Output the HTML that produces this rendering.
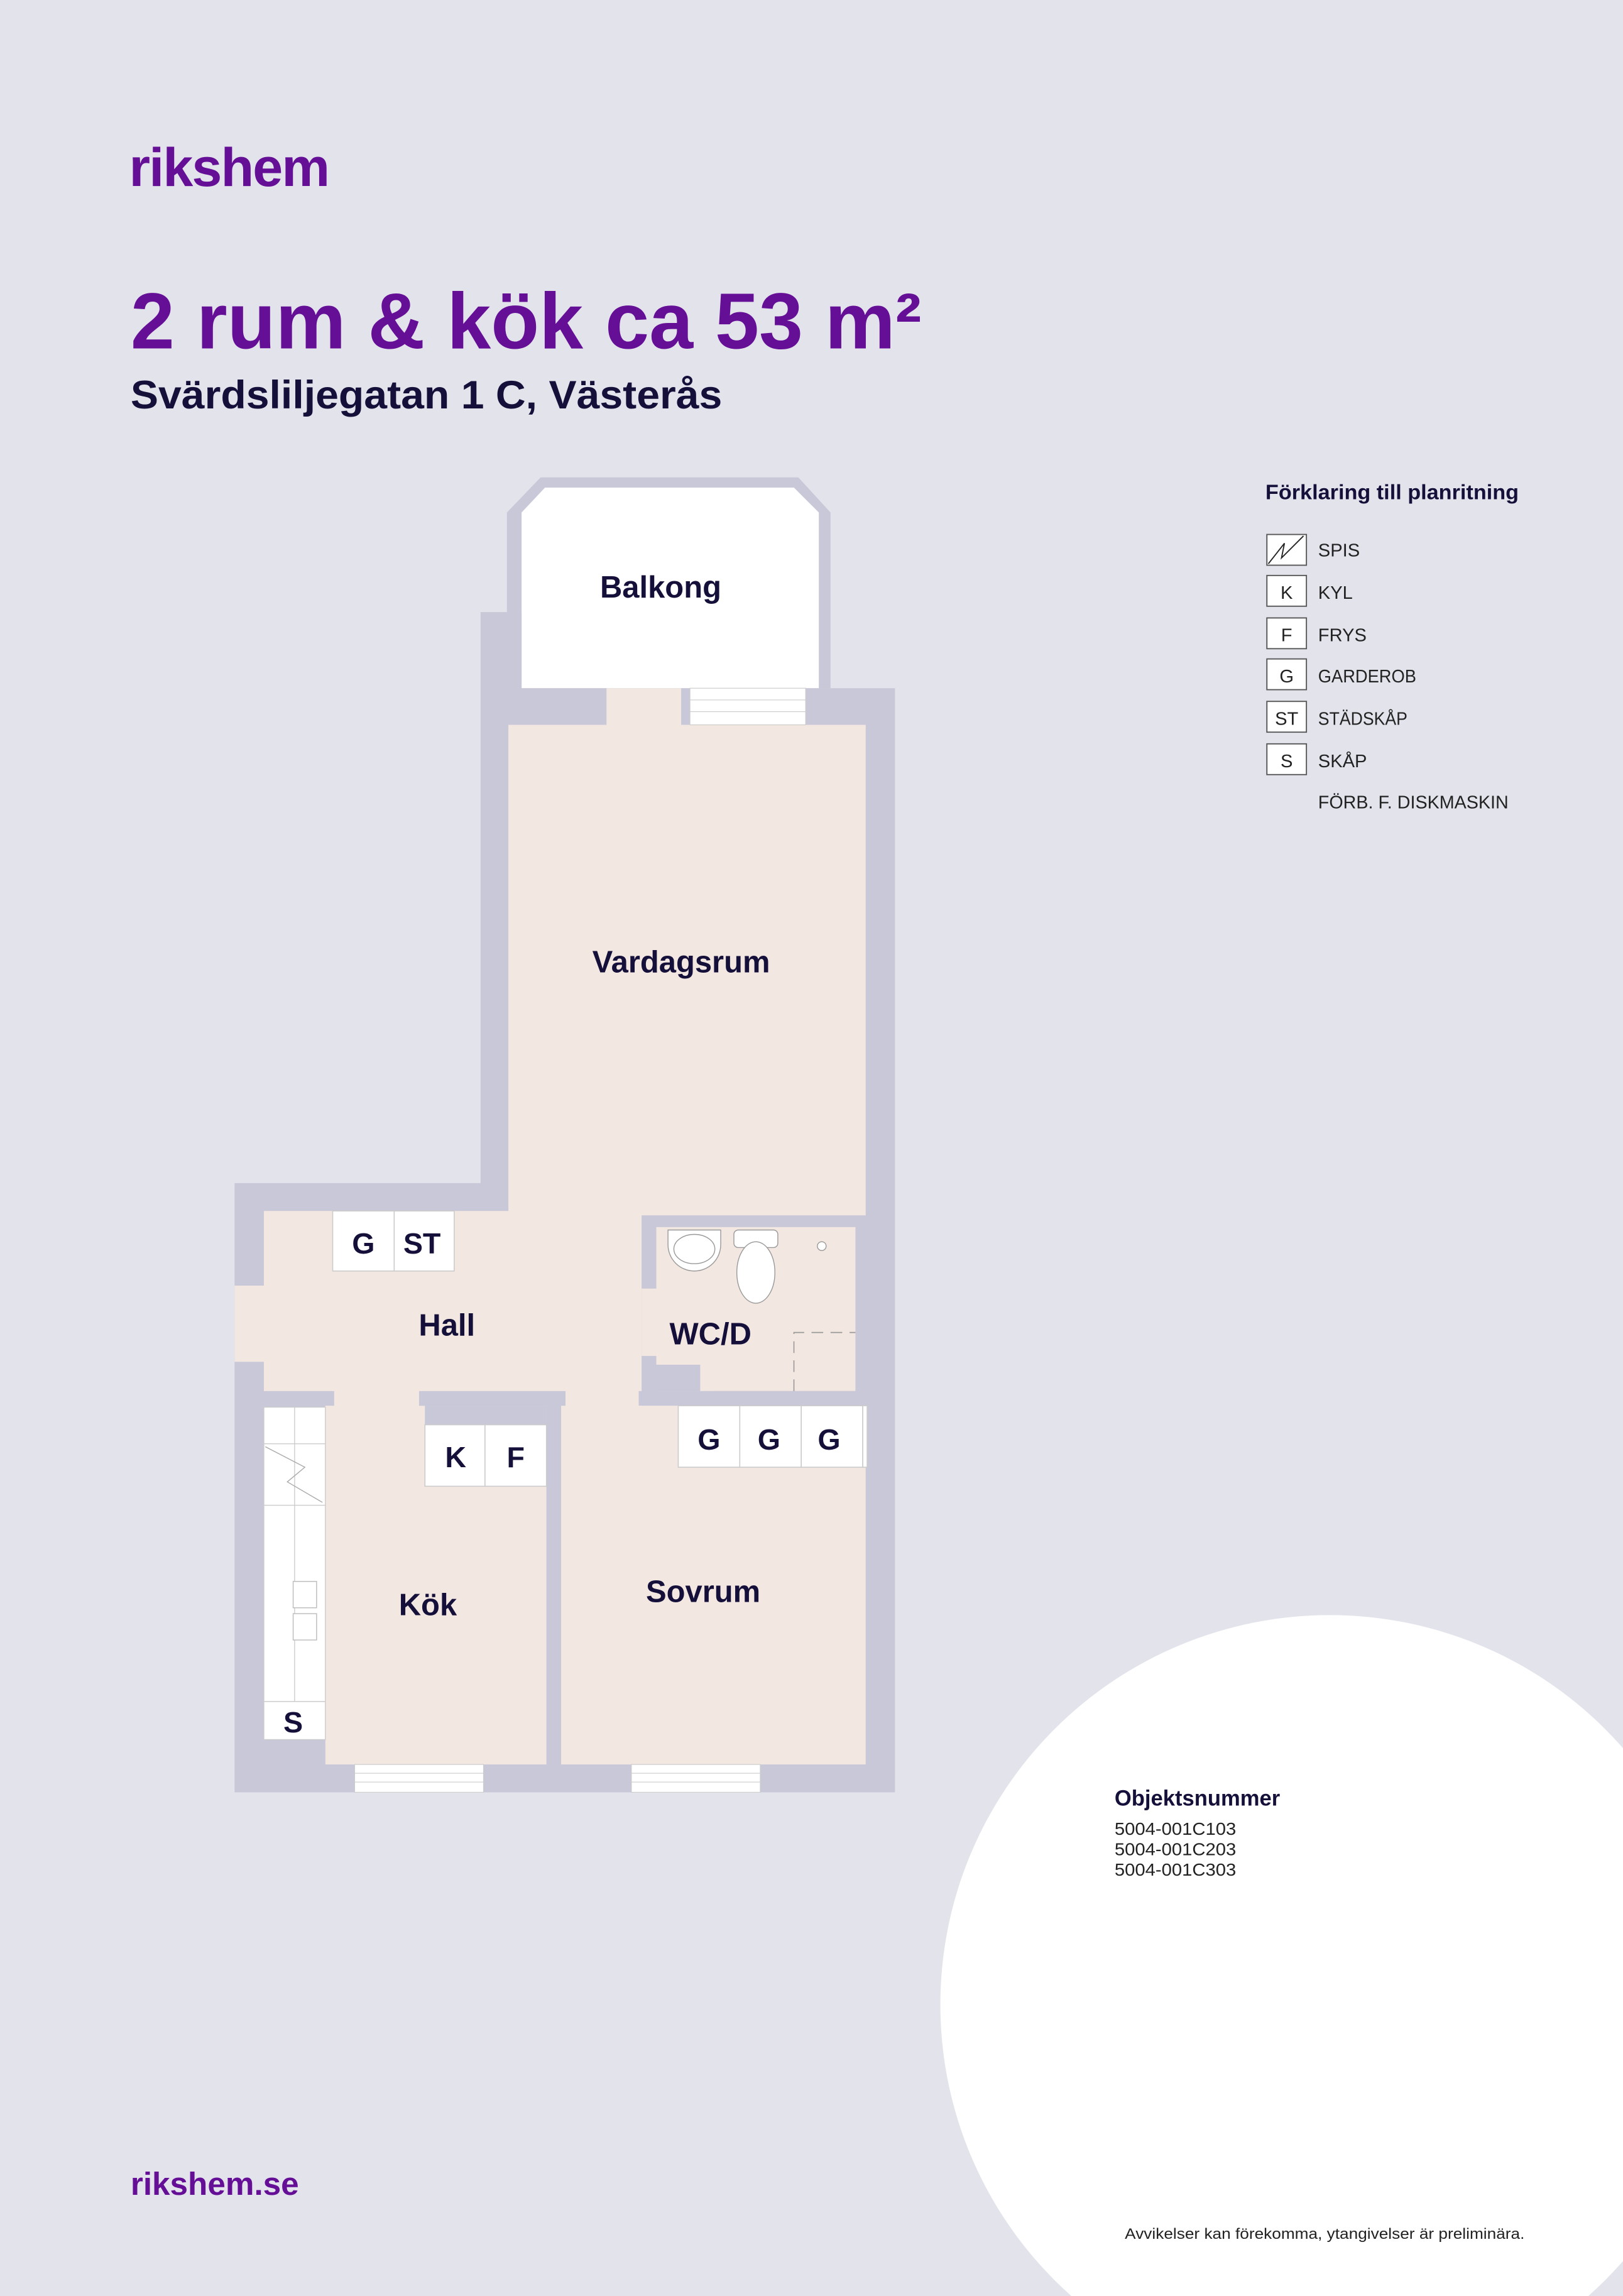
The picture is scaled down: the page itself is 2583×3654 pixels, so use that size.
<!DOCTYPE html>
<html><head><meta charset="utf-8"><style>
html,body{margin:0;padding:0;background:#e3e3ec;}
svg{display:block}
text{font-family:"Liberation Sans",sans-serif;}
</style></head><body>
<svg width="2583" height="3654" viewBox="0 0 1108 1568" xmlns="http://www.w3.org/2000/svg">
<rect width="1108" height="1568" fill="#e3e3ec"/>
<circle cx="908" cy="1369" r="266" fill="#ffffff"/>
<text x="88" y="127" font-size="37" font-weight="bold" fill="#650f96" letter-spacing="-0.8">rikshem</text>
<text x="89" y="238" font-size="54" font-weight="bold" fill="#650f96">2 rum &amp; kök ca 53 m²</text>
<text x="89" y="279" font-size="27" font-weight="bold" fill="#14103a" textLength="404" lengthAdjust="spacingAndGlyphs">Svärdsliljegatan 1 C, Västerås</text>

<!-- legend -->
<text x="864" y="341" font-size="14.5" font-weight="bold" fill="#14103a" textLength="173" lengthAdjust="spacingAndGlyphs">Förklaring till planritning</text>
<g stroke="#555" stroke-width="0.8" fill="#fff">
<rect x="865" y="365" width="27" height="21"/>
<rect x="865" y="393" width="27" height="21"/>
<rect x="865" y="422" width="27" height="21"/>
<rect x="865" y="450" width="27" height="21"/>
<rect x="865" y="479" width="27" height="21"/>
<rect x="865" y="508" width="27" height="21"/>
</g>
<polyline points="866,385 877,371 875,381 890,366" fill="none" stroke="#222" stroke-width="0.8"/>
<g font-size="12.5" fill="#222">
<text x="878.5" y="409" text-anchor="middle">K</text>
<text x="878.5" y="438" text-anchor="middle">F</text>
<text x="878.5" y="466" text-anchor="middle">G</text>
<text x="878.5" y="495" text-anchor="middle">ST</text>
<text x="878.5" y="524" text-anchor="middle">S</text>
<text x="900" y="380">SPIS</text>
<text x="900" y="409">KYL</text>
<text x="900" y="438">FRYS</text>
<text x="900" y="466" textLength="67" lengthAdjust="spacingAndGlyphs">GARDEROB</text>
<text x="900" y="495" textLength="61" lengthAdjust="spacingAndGlyphs">STÄDSKÅP</text>
<text x="900" y="524">SKÅP</text>
<text x="900" y="552" textLength="130" lengthAdjust="spacingAndGlyphs">FÖRB. F. DISKMASKIN</text>
</g>

<!-- floor plan -->
<g>
<polygon points="369,326 545,326 567,350 567,470 346,470 346,350" fill="#c8c8d8"/>
<polygon points="372,333 542,333 559,350 559,470 356,470 356,350" fill="#ffffff"/>
<polygon points="328,418 356,418 356,470 611,470 611,1224 160,1224 160,808 328,808" fill="#c8c8d8"/>
<rect x="347" y="495" width="244" height="336" fill="#f3e7e1"/>
<rect x="180" y="827" width="258" height="124" fill="#f3e7e1"/>
<rect x="160" y="878" width="30" height="52" fill="#f3e7e1"/>
<rect x="414" y="470" width="51" height="26" fill="#f3e7e1"/>
<rect x="386" y="827" width="52" height="140" fill="#f3e7e1"/>
<rect x="438" y="830" width="154" height="130" fill="#c8c8d8"/>
<rect x="448" y="838" width="136" height="112" fill="#f3e7e1"/>
<rect x="438" y="880" width="12" height="46" fill="#f3e7e1"/>
<rect x="478" y="930" width="8" height="20" fill="#f3e7e1"/>
<polygon points="448,930 448,950 478,950 478,932 448,932" fill="#c8c8d8"/>
<rect x="436" y="950" width="156" height="10" fill="#c8c8d8"/>
<path d="M542,950 V910 H584" fill="none" stroke="#999" stroke-width="0.7" stroke-dasharray="8,5"/>
<path d="M456,840 h36 v10 a18,18 0 0 1 -36,0z" fill="#fff" stroke="#999" stroke-width="0.6"/>
<ellipse cx="474" cy="853" rx="14" ry="10" fill="#fff" stroke="#999" stroke-width="0.6"/>
<rect x="501" y="840" width="30" height="12" rx="3" fill="#fff" stroke="#999" stroke-width="0.6"/>
<ellipse cx="516" cy="869" rx="13" ry="21" fill="#fff" stroke="#999" stroke-width="0.6"/>
<circle cx="561" cy="851" r="3" fill="#fff" stroke="#999" stroke-width="0.6"/>
<rect x="222" y="960" width="151" height="245" fill="#f3e7e1"/>
<rect x="383" y="960" width="208" height="245" fill="#f3e7e1"/>
<rect x="222" y="950" width="64" height="12" fill="#f3e7e1"/>
<rect x="180" y="950" width="48" height="10" fill="#c8c8d8"/>
<rect x="286" y="950" width="100" height="10" fill="#c8c8d8"/>
<rect x="290" y="960" width="83" height="13" fill="#c8c8d8"/>
<rect x="373" y="960" width="10" height="245" fill="#c8c8d8"/>
<rect x="180" y="961" width="42" height="227" fill="#fff" stroke="#ccc" stroke-width="0.6"/>
<line x1="180" y1="986" x2="222" y2="986" stroke="#ccc" stroke-width="0.6"/>
<line x1="180" y1="1028" x2="222" y2="1028" stroke="#ccc" stroke-width="0.6"/>
<line x1="180" y1="1162" x2="222" y2="1162" stroke="#ccc" stroke-width="0.6"/>
<line x1="201" y1="961" x2="201" y2="1162" stroke="#ccc" stroke-width="0.6"/>
<polyline points="181,988 208,1002 196,1012 220,1026" fill="none" stroke="#aaa" stroke-width="0.6"/>
<rect x="200" y="1080" width="16" height="18" fill="#fff" stroke="#bbb" stroke-width="0.6"/>
<rect x="200" y="1102" width="16" height="18" fill="#fff" stroke="#bbb" stroke-width="0.6"/>
<g fill="#fff" stroke="#ccc" stroke-width="0.7">
<rect x="227" y="827" width="42" height="41"/><rect x="269" y="827" width="41" height="41"/>
<rect x="290" y="973" width="41" height="42"/><rect x="331" y="973" width="42" height="42"/>
<rect x="463" y="960" width="42" height="42"/><rect x="505" y="960" width="42" height="42"/><rect x="547" y="960" width="42" height="42"/><rect x="589" y="960" width="3" height="42"/>
</g>
<g fill="#fff" stroke="#ccc" stroke-width="0.5">
<rect x="471" y="470" width="79" height="25"/>
<rect x="242" y="1205" width="88" height="19"/>
<rect x="431" y="1205" width="88" height="19"/>
</g>
<g stroke="#ccc" stroke-width="0.5">
<line x1="471" y1="478" x2="550" y2="478"/><line x1="471" y1="486" x2="550" y2="486"/>
<line x1="242" y1="1211" x2="330" y2="1211"/><line x1="242" y1="1217" x2="330" y2="1217"/>
<line x1="431" y1="1211" x2="519" y2="1211"/><line x1="431" y1="1217" x2="519" y2="1217"/>
</g>
</g>
<g font-size="21" font-weight="bold" fill="#14103a" text-anchor="middle">
<text x="451" y="408">Balkong</text>
<text x="465" y="664">Vardagsrum</text>
<text x="305" y="912">Hall</text>
<text x="485" y="918">WC/D</text>
<text x="292" y="1103">Kök</text>
<text x="480" y="1094">Sovrum</text>
<text x="248" y="856" font-size="20">G</text>
<text x="288" y="856" font-size="20">ST</text>
<text x="311" y="1002" font-size="20">K</text>
<text x="352" y="1002" font-size="20">F</text>
<text x="484" y="990" font-size="20">G</text>
<text x="525" y="990" font-size="20">G</text>
<text x="566" y="990" font-size="20">G</text>
<text x="200" y="1183" font-size="20">S</text>
</g>

<text x="761" y="1233" font-size="15" font-weight="bold" fill="#14103a" textLength="113" lengthAdjust="spacingAndGlyphs">Objektsnummer</text>
<g font-size="12" fill="#222">
<text x="761" y="1253" textLength="83" lengthAdjust="spacingAndGlyphs">5004-001C103</text>
<text x="761" y="1267" textLength="83" lengthAdjust="spacingAndGlyphs">5004-001C203</text>
<text x="761" y="1281" textLength="83" lengthAdjust="spacingAndGlyphs">5004-001C303</text>
</g>
<text x="89" y="1499" font-size="22" font-weight="bold" fill="#650f96">rikshem.se</text>
<text x="768" y="1529" font-size="10.5" fill="#222" textLength="273" lengthAdjust="spacingAndGlyphs">Avvikelser kan förekomma, ytangivelser är preliminära.</text>
</svg>
</body></html>
